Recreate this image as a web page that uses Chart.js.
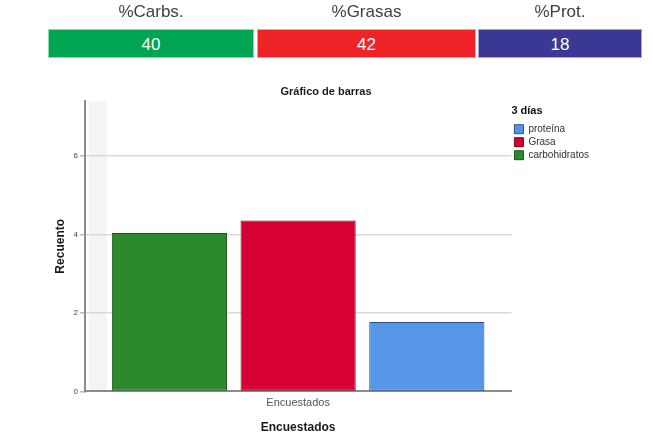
<!DOCTYPE html>
<html>
<head>
<meta charset="utf-8">
<script src="https://cdn.jsdelivr.net/npm/chart.js@4.4.1/dist/chart.umd.min.js"></script>
<style>
  body { margin: 0; background: #fff; font-family: Arial, "Liberation Sans", sans-serif; }
  #wrap { position: relative; width: 653px; height: 442px; overflow: hidden; }
  #grafico { position: absolute; left: 0; top: 0; }
  .cab { position: absolute; top: 0; height: 24px; line-height: 24px; text-align: center; font-size: 17px; color: #404040; }
  .celda { position: absolute; top: 29px; height: 29px; line-height: 29px; text-align: center; font-size: 17px; color: #fff; box-sizing: border-box; border: 1px solid rgba(255,255,255,0.55); }
</style>
</head>
<body>
<div id="wrap">
  <canvas id="grafico" width="653" height="442"></canvas>
</div>
<script>
// tabla de porcentajes de arriba
const cabeceras = ["%Carbs.", "%Grasas", "%Prot."];
const porcentajes = [40, 42, 18];
const coloresTabla = ["#00a551", "#ee2428", "#3b3794"];
const celdasX = [[48, 254], [257, 476], [478, 642]];

// datos del grafico de barras
const categorias = ["Encuestados"];
const series = ["carbohidratos", "Grasa", "proteína"];
const valores = [4.04, 4.36, 1.77];
const coloresBarra = ["#2b8a2b", "#d70032", "#5596e6"];
const bordesBarra = ["#1c561c", "#6e0b22", "#2e4f86"];
const ticksY = [0, 2, 4, 6];

const wrap = document.querySelector("#wrap");
cabeceras.forEach((txt, i) => {
  const [x0, x1] = celdasX[i];
  const cab = document.createElement("div");
  cab.className = "cab";
  cab.style.left = x0 + "px";
  cab.style.width = (x1 - x0) + "px";
  cab.textContent = txt;
  wrap.appendChild(cab);
  const celda = document.createElement("div");
  celda.className = "celda";
  celda.style.left = x0 + "px";
  celda.style.width = (x1 - x0) + "px";
  celda.style.background = coloresTabla[i];
  celda.textContent = porcentajes[i];
  wrap.appendChild(celda);
});

const fondoGris = {
  id: "fondoGris",
  beforeDraw(chart) {
    const { ctx, chartArea } = chart;
    ctx.save();
    ctx.fillStyle = "#f4f4f4";
    ctx.fillRect(chartArea.left + 4, chartArea.top, 18, chartArea.bottom - chartArea.top);
    ctx.restore();
  },
};

const fuente = 'Arial, "Liberation Sans", sans-serif';
Chart.defaults.font.family = fuente;

const datasets = series.map((nombre, i) => ({
  label: nombre,
  data: [valores[i]],
  backgroundColor: coloresBarra[i],
  borderColor: bordesBarra[i],
  borderWidth: 1,
  borderSkipped: false,
  categoryPercentage: 0.905,
  barPercentage: 0.895,
}));

new Chart(document.querySelector("#grafico"), {
  type: "bar",
  data: { labels: categorias, datasets },
  plugins: [fondoGris],
  options: {
    responsive: false,
    animation: false,
    layout: { padding: { top: 81, left: 53, right: 54, bottom: 7 } },
    plugins: {
      title: {
        display: true,
        text: "Gráfico de barras",
        color: "#1a1a1a",
        font: { size: 11, weight: "bold" },
        padding: { top: 4, bottom: 3 },
      },
      legend: {
        position: "right",
        align: "start",
        reverse: true,
        title: {
          display: true,
          text: "3 días",
          color: "#111",
          position: "start",
          font: { size: 11, weight: "bold" },
          padding: { top: 24, bottom: 3 },
        },
        labels: {
          boxWidth: 9,
          boxHeight: 9,
          padding: 3,
          color: "#333",
          font: { size: 10 },
        },
      },
      tooltip: { enabled: false },
    },
    scales: {
      x: {
        grid: { display: false, drawTicks: false },
        border: { display: true, color: "#8c8c8c", width: 2 },
        ticks: { color: "#555", font: { size: 11 }, padding: 5 },
        title: {
          display: true,
          text: "Encuestados",
          color: "#1a1a1a",
          font: { size: 12, weight: "bold" },
          padding: { top: 6, bottom: 0 },
        },
      },
      y: {
        min: 0,
        max: 7.4,
        afterBuildTicks: (s) => { s.ticks = ticksY.map((v) => ({ value: v })); },
        grid: {
          color: (c) => (c.tick && c.tick.value === 0 ? "rgba(0,0,0,0)" : "#d9d9d9"),
          lineWidth: 1.5,
          tickLength: 5,
          tickColor: "#bbb",
        },
        border: { display: true, color: "#8c8c8c", width: 2 },
        ticks: { color: "#444", font: { size: 8 }, padding: 2 },
        title: {
          display: true,
          text: "Recuento",
          color: "#1a1a1a",
          font: { size: 12, weight: "bold" },
          padding: { top: 0, bottom: 4 },
        },
      },
    },
  },
});
</script>
</body>
</html>
